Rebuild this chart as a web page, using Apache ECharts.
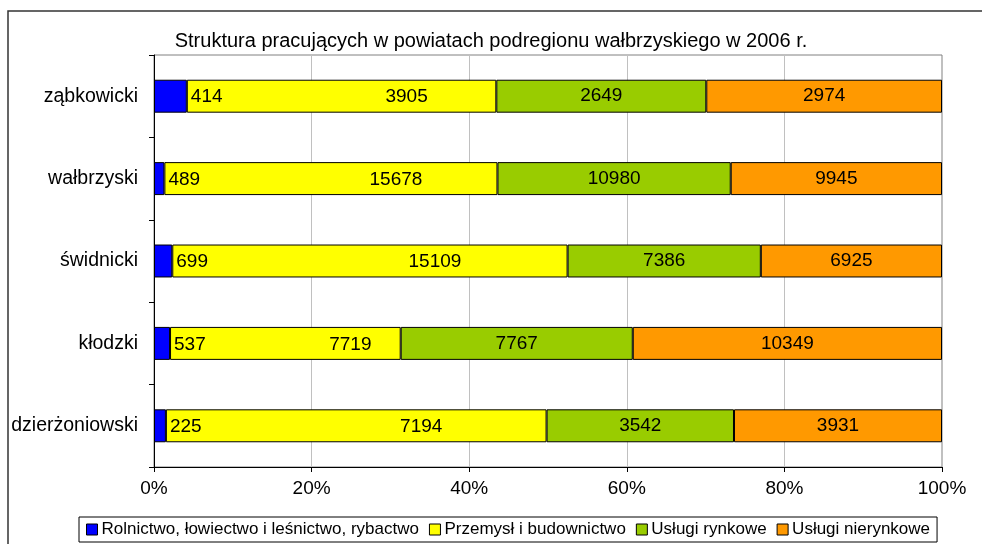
<!DOCTYPE html>
<html>
<head>
<meta charset="utf-8">
<script src="https://cdn.jsdelivr.net/npm/echarts@6/dist/echarts.min.js"></script>
<style>
  html, body { margin: 0; padding: 0; background: #fff; }
</style>
</head>
<body>
<div id="chart" style="width:982px;height:544px"></div>
<script>
// powiaty, od dołu do góry jak na osi
const categories = ['dzierżoniowski', 'kłodzki', 'świdnicki', 'wałbrzyski', 'ząbkowicki'];
const seriesNames = [
  'Rolnictwo, łowiectwo i leśnictwo, rybactwo',
  'Przemysł i budownictwo',
  'Usługi rynkowe',
  'Usługi nierynkowe'
];
const rolnictwo = [225, 537, 699, 489, 414];
const przemysl = [7194, 7719, 15109, 15678, 3905];
const uslugiRynkowe = [3542, 7767, 7386, 10980, 2649];
const uslugiNierynkowe = [3931, 10349, 6925, 9945, 2974];
const xTicks = [0, 20, 40, 60, 80, 100];

const colors = ['#0000FF', '#FFFF00', '#99CC00', '#FF9900'];
const raw = [rolnictwo, przemysl, uslugiRynkowe, uslugiNierynkowe];

// sumy w powiatach -> udział procentowy
const totals = categories.map((c, i) => raw.reduce((s, arr) => s + arr[i], 0));

const font = 'Liberation Sans, Arial, sans-serif';

function labelFor(idx) {
  const base = {
    show: true,
    color: '#000',
    fontFamily: font,
    fontSize: 19,
    textBorderWidth: 0,
    formatter: p => raw[idx][p.dataIndex]
  };
  if (idx === 0) return Object.assign(base, { position: 'right', distance: 4, offset: [0, 1] });
  if (idx === 1) return Object.assign(base, { position: 'inside', offset: [65, 1] });
  return Object.assign(base, { position: 'inside' });
}

const series = raw.map((arr, idx) => ({
  name: seriesNames[idx],
  type: 'bar',
  stack: 'total',
  barWidth: '40%',
  z: idx === 0 ? 3 : 2,
  animation: false,
  itemStyle: { color: colors[idx], borderColor: '#000', borderWidth: 1 },
  label: labelFor(idx),
  data: arr.map((v, i) => v / totals[i] * 100)
}));

const option = {
  backgroundColor: '#fff',
  title: {
    text: 'Struktura pracujących w powiatach podregionu wałbrzyskiego w 2006 r.',
    left: 'center',
    top: 26,
    textStyle: { fontFamily: font, fontSize: 20, fontWeight: 'normal', color: '#000' }
  },
  graphic: [{
    type: 'rect',
    shape: { x: 8, y: 11, width: 1200, height: 800 },
    style: { fill: 'none', stroke: '#333', lineWidth: 1.5 },
    silent: true
  }],
  grid: {
    left: 154, right: 40, top: 55, bottom: 77,
    show: true, borderColor: '#808080', borderWidth: 1
  },
  legend: {
    bottom: 2,
    left: 79,
    itemWidth: 11,
    itemHeight: 11,
    itemGap: 10,
    padding: [4, 7],
    borderColor: '#000',
    borderWidth: 1,
    icon: 'rect',
    itemStyle: { borderColor: '#000', borderWidth: 1 },
    textStyle: { fontFamily: font, fontSize: 17, color: '#000', padding: [0, 0, 0, -1] },
    data: seriesNames
  },
  xAxis: {
    type: 'value',
    min: xTicks[0],
    max: xTicks[xTicks.length - 1],
    interval: xTicks[1] - xTicks[0],
    axisLine: { show: true, lineStyle: { color: '#000' } },
    axisTick: { show: true, length: 5, lineStyle: { color: '#000' } },
    axisLabel: { formatter: '{value}%', color: '#000', fontFamily: font, fontSize: 19, margin: 12 },
    splitLine: { show: true, lineStyle: { color: '#C0C0C0' } }
  },
  yAxis: {
    type: 'category',
    data: categories,
    axisLine: { show: true, lineStyle: { color: '#000' } },
    axisTick: { show: true, length: 5, lineStyle: { color: '#000' } },
    axisLabel: { color: '#000', fontFamily: font, fontSize: 19.5, margin: 16 }
  },
  series: series
};

const chart = echarts.init(document.getElementById('chart'), null, { renderer: 'canvas' });
chart.setOption(option);
</script>
</body>
</html>
